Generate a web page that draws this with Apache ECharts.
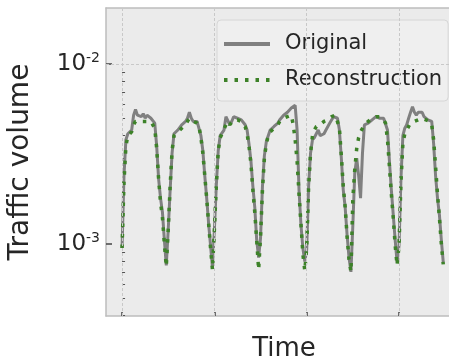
<!DOCTYPE html>
<html>
<head>
  <meta charset="UTF-8">
  <title>Traffic volume</title>
  <script src="https://cdn.jsdelivr.net/npm/echarts@6/dist/echarts.min.js"></script>
  <style>
    html, body { margin: 0; padding: 0; background: #ffffff; overflow: hidden; }
    /* the plot runs past the right edge of the picture, so the chart is wider than the window */
    #chart { width: 480px; height: 363px; }
  </style>
</head>
<body>
<div id="chart"></div>
<script>
// hourly samples, one week (hour 0 .. 167)
var hours = [];
for (var h = 0; h < 168; h++) hours.push(h);

var original = [
  0.00095, 0.0024, 0.0038, 0.0041, 0.0042, 0.0043, 0.0052, 0.0056, 0.0052, 0.0053, 0.0051, 0.0053,
  0.0050, 0.0052, 0.0052, 0.0050, 0.0050, 0.0047, 0.0035, 0.0023, 0.0018, 0.0015, 0.00105, 0.00076,
  0.0012, 0.0020, 0.0032, 0.0041, 0.0042, 0.0043, 0.0044, 0.0046, 0.0045, 0.0048, 0.0050, 0.0054,
  0.0050, 0.0048, 0.0049, 0.0048, 0.0047, 0.0040, 0.0033, 0.0024, 0.0018, 0.0013, 0.00098, 0.00074,
  0.0012, 0.0021, 0.0033, 0.0040, 0.0041, 0.0043, 0.0051, 0.0052, 0.0046, 0.0048, 0.0051, 0.0052,
  0.0050, 0.0050, 0.0049, 0.0048, 0.0046, 0.0043, 0.0036, 0.0029, 0.0021, 0.0016, 0.00105, 0.00084,
  0.00108, 0.0021, 0.0031, 0.0037, 0.0040, 0.0043, 0.0044, 0.0045, 0.0045, 0.0047, 0.0049, 0.0050,
  0.0052, 0.0053, 0.0054, 0.0055, 0.0057, 0.0058, 0.0059, 0.0043, 0.0020, 0.00128, 0.00095, 0.00080,
  0.00093, 0.0021, 0.0032, 0.0038, 0.0039, 0.0041, 0.0043, 0.0040, 0.0039, 0.0041, 0.0043, 0.0045,
  0.0047, 0.0049, 0.0051, 0.0051, 0.0050, 0.0043, 0.0030, 0.0020, 0.0016, 0.00112, 0.00084, 0.00070,
  0.00128, 0.0025, 0.0030, 0.0024, 0.0018, 0.0032, 0.0046, 0.0045, 0.0047, 0.0048, 0.0049, 0.0050,
  0.0051, 0.0051, 0.0050, 0.0050, 0.0050, 0.0049, 0.0043, 0.0029, 0.0020, 0.00145, 0.00105, 0.00079,
  0.00098, 0.0023, 0.0040, 0.0044, 0.0046, 0.0050, 0.0054, 0.0058, 0.0054, 0.0052, 0.0054, 0.0055,
  0.0054, 0.0051, 0.0050, 0.0049, 0.0049, 0.0048, 0.0036, 0.0024, 0.0018, 0.00145, 0.00105, 0.00079
];

var reconstruction = [
  0.00095, 0.0022, 0.0035, 0.0040, 0.0041, 0.0042, 0.0046, 0.0048, 0.0048, 0.0048, 0.0048, 0.0048,
  0.0048, 0.0048, 0.0048, 0.0048, 0.0047, 0.0044, 0.0034, 0.0023, 0.0017, 0.0014, 0.0010, 0.00075,
  0.0012, 0.0021, 0.0033, 0.0040, 0.0041, 0.0042, 0.0043, 0.0044, 0.0045, 0.0046, 0.0048, 0.0050,
  0.0049, 0.0048, 0.0048, 0.0047, 0.0045, 0.0039, 0.0032, 0.0024, 0.0018, 0.0013, 0.00095, 0.00072,
  0.0012, 0.0021, 0.0033, 0.0039, 0.0041, 0.0042, 0.0046, 0.0048, 0.0046, 0.0047, 0.0049, 0.0050,
  0.0049, 0.0049, 0.0048, 0.0047, 0.0045, 0.0041, 0.0035, 0.0028, 0.0020, 0.0015, 0.00105, 0.00072,
  0.0011, 0.0020, 0.0030, 0.0036, 0.0040, 0.0042, 0.0043, 0.0044, 0.0044, 0.0046, 0.0048, 0.0049,
  0.0050, 0.0051, 0.0051, 0.0052, 0.0052, 0.0046, 0.0038, 0.0029, 0.0019, 0.0013, 0.00088, 0.00071,
  0.00095, 0.0021, 0.0032, 0.0040, 0.0043, 0.0045, 0.0046, 0.0046, 0.0047, 0.0048, 0.0048, 0.0049,
  0.0050, 0.0051, 0.0052, 0.0052, 0.0051, 0.0044, 0.0031, 0.0021, 0.0016, 0.0011, 0.00082, 0.00070,
  0.0018, 0.0026, 0.0034, 0.0039, 0.0042, 0.0044, 0.0046, 0.0047, 0.0048, 0.0049, 0.0050, 0.0050,
  0.0051, 0.0051, 0.0051, 0.0050, 0.0049, 0.0047, 0.0038, 0.0027, 0.0019, 0.0014, 0.00098, 0.00076,
  0.00098, 0.0022, 0.0036, 0.0041, 0.0043, 0.0045, 0.0047, 0.0048, 0.0048, 0.0049, 0.0049, 0.0050,
  0.0050, 0.0049, 0.0049, 0.0048, 0.0048, 0.0046, 0.0038, 0.0027, 0.0019, 0.0014, 0.0010, 0.00077
];

var xTicks = [0, 48, 96, 144];
var yMajor = [0.001, 0.01];
var yMinor = [0.0004, 0.0005, 0.0006, 0.0007, 0.0008, 0.0009,
              0.002, 0.003, 0.004, 0.005, 0.006, 0.007, 0.008, 0.009];

var chart = echarts.init(document.getElementById('chart'), null, { renderer: 'canvas' });

function pairs(ys) {
  return hours.map(function (h, i) { return [h, ys[i]]; });
}

var frame = { show: true, onZero: false, lineStyle: { color: '#bdbdbd', width: 1.5 } };

var option = {
  animation: false,
  textStyle: { fontFamily: 'DejaVu Sans' },
  grid: {
    left: 106, top: 8, right: 0, bottom: 47,
    outerBoundsMode: 'none',
    containLabel: false,
    show: true,
    backgroundColor: '#ebebeb',
    borderWidth: 0
  },
  legend: {
    left: 217, top: 20,
    orient: 'vertical',
    padding: [12, 6, 9, 5],
    itemGap: 12,
    itemWidth: 46,
    itemHeight: 14,
    backgroundColor: 'rgba(240,240,240,0.9)',
    borderColor: '#d6d6d6',
    borderWidth: 1,
    borderRadius: 4,
    itemStyle: { opacity: 0 },
    lineStyle: { width: 4 },
    textStyle: { fontSize: 21, color: '#262626', lineHeight: 24, padding: [0, 0, 0, 10] },
    data: ['Original', 'Reconstruction']
  },
  xAxis: [{
    type: 'value',
    position: 'bottom',
    min: -8.35, max: 186.1,
    name: 'Time',
    nameLocation: 'middle',
    nameGap: 20,
    nameTextStyle: { fontSize: 26, color: '#262626', padding: [0, 18, 0, 0] },
    axisLine: frame,
    axisLabel: { show: false },
    axisTick: { show: true, inside: true, length: 4, customValues: xTicks,
                lineStyle: { color: '#444', width: 1.5 } },
    splitLine: { show: false }
  }, {
    type: 'value',
    position: 'top',
    min: -8.35, max: 186.1,
    axisLine: frame,
    axisLabel: { show: false },
    axisTick: { show: false },
    splitLine: { show: false }
  }],
  yAxis: [{
    type: 'log',
    logBase: 10,
    position: 'left',
    min: 0.000398, max: 0.0205,
    name: 'Traffic volume',
    nameLocation: 'middle',
    nameGap: 71,
    nameTextStyle: { fontSize: 28, color: '#262626' },
    axisLine: frame,
    axisTick: { show: true, inside: true, length: 6, customValues: yMajor,
                lineStyle: { color: '#444', width: 1.5 } },
    axisLabel: {
      customValues: yMajor,
      margin: 6,
      formatter: function (v) {
        return '{b|10}{s|' + Math.round(Math.log10(v)) + '}';
      },
      rich: {
        b: { fontSize: 23, color: '#262626', fontFamily: 'DejaVu Sans', lineHeight: 26 },
        s: { fontSize: 14, color: '#262626', fontFamily: 'DejaVu Sans', lineHeight: 26,
             verticalAlign: 'top', padding: [0, 0, 14, 0] }
      }
    },
    splitLine: { show: false }
  }, {
    type: 'log',
    logBase: 10,
    min: 0.000398, max: 0.0205,
    position: 'left',
    axisLine: { show: false },
    axisLabel: { show: false },
    axisTick: { show: true, inside: true, length: 3, customValues: yMinor,
                lineStyle: { color: '#555', width: 1 } },
    splitLine: { show: false }
  }],
  series: [{
    name: 'Original',
    type: 'line',
    data: pairs(original),
    showSymbol: false,
    symbol: 'none',
    lineStyle: { color: '#808080', width: 3 },
    itemStyle: { color: '#808080' },
    z: 2,
    markLine: {
      silent: true,
      symbol: 'none',
      label: { show: false },
      lineStyle: { color: '#c8c8c8', type: [3, 2], width: 1 },
      data: xTicks.map(function (t) { return { xAxis: t }; })
        .concat(yMajor.map(function (t) { return { yAxis: t }; }))
    }
  }, {
    name: 'Reconstruction',
    type: 'line',
    data: pairs(reconstruction),
    showSymbol: false,
    symbol: 'none',
    lineStyle: { color: '#3d8229', width: 3.5, type: [3.5, 7] },
    itemStyle: { color: '#3d8229' },
    z: 3
  }]
};

chart.setOption(option);
</script>
</body>
</html>
